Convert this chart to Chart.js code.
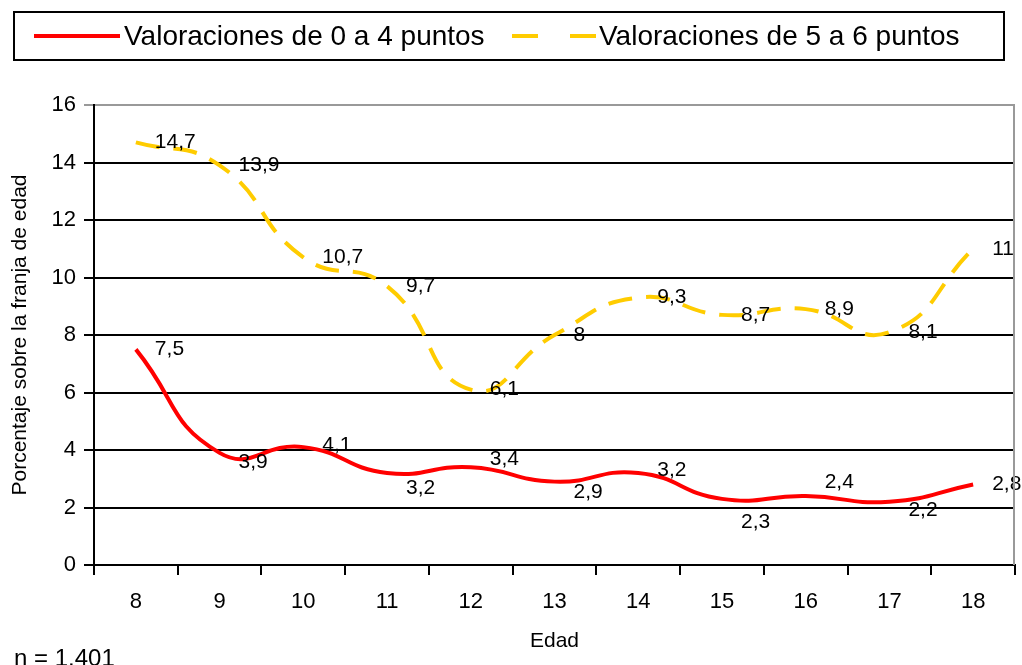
<!DOCTYPE html>
<html>
<head>
<meta charset="utf-8">
<script src="https://cdn.jsdelivr.net/npm/chart.js@4"></script>
<style>
  body { margin: 0; background: #fff; }
  #caja { width: 1022px; height: 665px; }
</style>
</head>
<body>
<div id="caja"><canvas id="grafico"></canvas></div>
<script>
const edades = ["8", "9", "10", "11", "12", "13", "14", "15", "16", "17", "18"];
const valoraciones0a4 = [7.5, 3.9, 4.1, 3.2, 3.4, 2.9, 3.2, 2.3, 2.4, 2.2, 2.8];
const valoraciones5a6 = [14.7, 13.9, 10.7, 9.7, 6.1, 8, 9.3, 8.7, 8.9, 8.1, 11];
const ticksY = [0, 2, 4, 6, 8, 10, 12, 14, 16];

const fuente = "'Liberation Sans', Arial, sans-serif";

// desplazamiento vertical de las etiquetas (como las dejó Excel)
const ajusteRojo = [0, 9, -2, 15, -8, 11, -3, 23, -14, 8, 0];
const ajusteAmarillo = [0, 0, 0, 0, 0, 0, 0, 0, 0, 0, 0];

const etiquetas = {
  id: "etiquetas",
  afterDatasetsDraw(chart) {
    const ctx = chart.ctx;
    ctx.save();
    ctx.font = "21px " + fuente;
    ctx.fillStyle = "#000";
    ctx.textAlign = "left";
    ctx.textBaseline = "middle";
    chart.data.datasets.forEach((ds, i) => {
      const meta = chart.getDatasetMeta(i);
      const ajuste = i === 0 ? ajusteRojo : ajusteAmarillo;
      meta.data.forEach((p, j) => {
        ctx.fillText(String(ds.data[j]).replace(".", ","), p.x + 19, p.y + ajuste[j]);
      });
    });
    ctx.restore();
  }
};

const leyenda = {
  id: "leyenda",
  afterDraw(chart) {
    const ctx = chart.ctx;
    const a = chart.chartArea;
    ctx.save();
    // borde gris del área de trazado (derecha)
    ctx.strokeStyle = "#999";
    ctx.lineWidth = 2;
    ctx.beginPath();
    ctx.moveTo(a.right - 1, a.top);
    ctx.lineTo(a.right - 1, a.bottom);
    ctx.stroke();

    // caja de leyenda
    ctx.strokeStyle = "#000";
    ctx.lineWidth = 2;
    ctx.strokeRect(14, 12, 990, 48);
    ctx.font = "28px " + fuente;
    ctx.textBaseline = "middle";
    ctx.fillStyle = "#000";
    const ds = chart.data.datasets;
    ctx.lineWidth = 4;
    ctx.strokeStyle = ds[0].borderColor;
    ctx.beginPath();
    ctx.moveTo(34, 36);
    ctx.lineTo(120, 36);
    ctx.stroke();
    ctx.fillText(ds[0].label, 124, 37);
    ctx.strokeStyle = ds[1].borderColor;
    ctx.beginPath();
    ctx.moveTo(512, 36); ctx.lineTo(538, 36);
    ctx.moveTo(570, 36); ctx.lineTo(596, 36);
    ctx.stroke();
    ctx.fillText(ds[1].label, 599, 37);

    ctx.font = "24px " + fuente;
    ctx.fillText("n = 1.401", 14, 659);
    ctx.restore();
  }
};

new Chart(document.getElementById("grafico"), {
  type: "line",
  data: {
    labels: edades,
    datasets: [
      {
        label: "Valoraciones de 0 a 4 puntos",
        data: valoraciones0a4,
        borderColor: "#FF0000",
        borderWidth: 4,
        pointRadius: 0,
        tension: 0.5,
        fill: false
      },
      {
        label: "Valoraciones de 5 a 6 puntos",
        data: valoraciones5a6,
        borderColor: "#FFCC00",
        borderWidth: 4,
        borderDash: [24, 14],
        pointRadius: 0,
        tension: 0.5,
        fill: false
      }
    ]
  },
  options: {
    responsive: true,
    maintainAspectRatio: false,
    animation: false,
    layout: { padding: { left: 0, right: 7, top: 105, bottom: 0 } },
    plugins: {
      legend: { display: false },
      tooltip: { enabled: false }
    },
    scales: {
      x: {
        offset: true,
        grid: { offset: true, drawOnChartArea: false, color: "#000", lineWidth: 2, tickLength: 10 },
        border: { color: "#000", width: 2 },
        ticks: { color: "#000", font: { family: fuente, size: 22 }, padding: 14, maxRotation: 0 },
        title: { display: true, text: "Edad", color: "#000", font: { family: fuente, size: 21 }, padding: { top: 0, bottom: 11 } },
        afterFit(s) { s.height = 100; }
      },
      y: {
        min: 0,
        max: 16,
        afterBuildTicks(s) { s.ticks = ticksY.map(v => ({ value: v })); },
        grid: {
          color: c => (c.tick && c.tick.value === 16 ? "#999" : "#000"),
          lineWidth: 2,
          tickLength: 10
        },
        border: { color: "#000", width: 2 },
        ticks: { color: "#000", font: { family: fuente, size: 22 }, padding: 8 },
        title: { display: true, text: "Porcentaje sobre la franja de edad", color: "#000", font: { family: fuente, size: 21 }, padding: { top: 8, bottom: 0 } },
        afterFit(s) { s.width = 94; }
      }
    }
  },
  plugins: [etiquetas, leyenda]
});
</script>
</body>
</html>
